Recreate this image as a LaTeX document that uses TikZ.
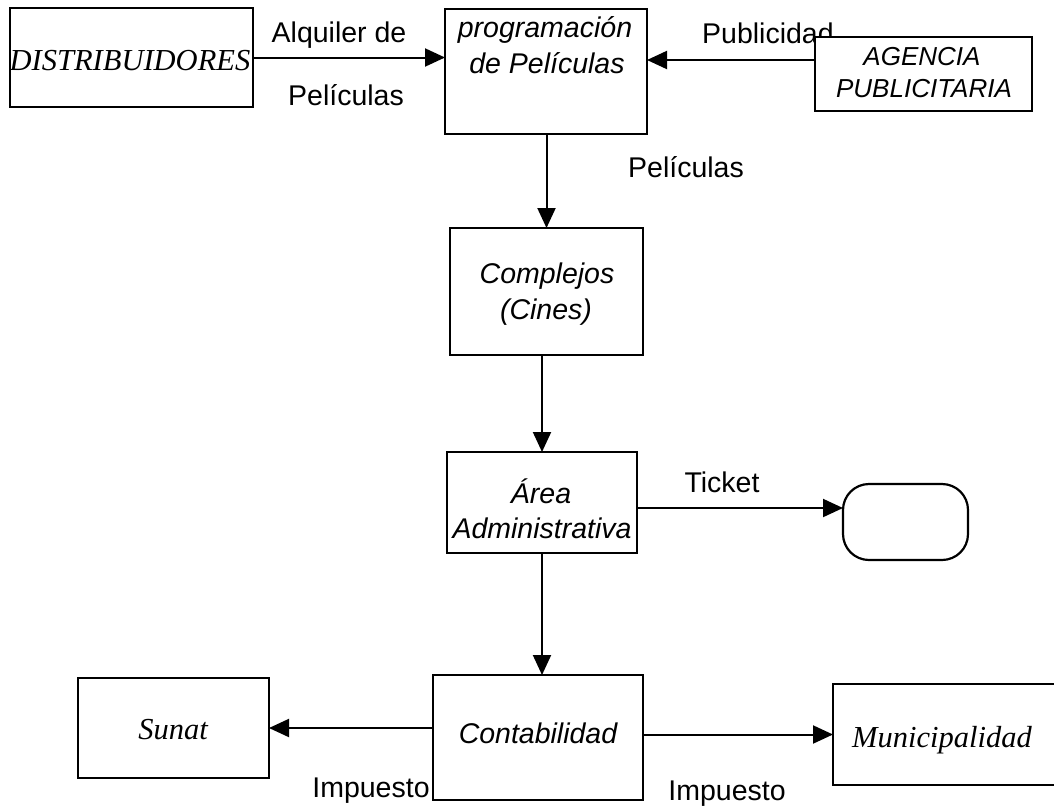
\documentclass[tikz,border=0pt]{standalone}
\usepackage{fontspec}
\setmainfont{Liberation Sans}
\newfontfamily\seriffam{Liberation Serif}
\usetikzlibrary{arrows.meta,calc}
\tikzset{
  box/.style={draw=black, line width=2.2pt, fill=white, inner sep=0pt, outer sep=0pt},
  lbl/.style={inner sep=0pt, font=\fontsize{28.5}{34}\selectfont},
  boxtxt/.style={inner sep=0pt, font=\fontsize{28.5}{34}\selectfont\itshape},
  agtxt/.style={inner sep=0pt, font=\fontsize{26}{31}\selectfont\itshape},
  sertxt/.style={inner sep=0pt, font=\fontsize{30.5}{36}\seriffam\itshape},
  flow/.style={draw=black, line width=2pt, -{Triangle[length=20pt,width=18pt]}}
}
\begin{document}
\begin{tikzpicture}[x=1pt,y=-1pt]
\useasboundingbox (0,0) rectangle (1054,809);
\fill[white] (0,0) rectangle (1054,809);
\clip (0,0) rectangle (1054,809);

% boxes
\node[box, minimum width=243pt, minimum height=99pt] (dist) at (131.5,57.5) {};
\node[box, minimum width=202pt, minimum height=125pt] (prog) at (546,71.5) {};
\node[lbl, anchor=base west] (tpub) at (702,43) {Publicidad};
\node[box, minimum width=217pt, minimum height=74pt] (agen) at (923.5,74) {};
\node[box, minimum width=193pt, minimum height=127pt] (comp) at (546.5,291.5) {};
\node[box, minimum width=190pt, minimum height=101pt] (area) at (542,502.5) {};
\node[box, rounded corners=26pt, minimum width=125pt, minimum height=76pt] (term) at (905.5,522) {};
\node[box, minimum width=210pt, minimum height=125pt] (conta) at (538,737.5) {};
\node[box, minimum width=191pt, minimum height=100pt] (sunat) at (173.5,728) {};
\node[box, minimum width=232pt, minimum height=101pt] (muni) at (949,734.5) {};

% box texts
\node[sertxt, anchor=base] (tdist) at (130,70) {DISTRIBUIDORES};
\node[boxtxt, anchor=base] (tprog1) at (545,37) {programación};
\node[boxtxt, anchor=base] (tprog2) at (547,73) {de Películas};
\node[agtxt, anchor=base] (tag1) at (922,65) {AGENCIA};
\node[agtxt, anchor=base] (tag2) at (924,97) {PUBLICITARIA};
\node[boxtxt, anchor=base] (tcomp1) at (547,283) {Complejos};
\node[boxtxt, anchor=base] (tcomp2) at (546,319) {(Cines)};
\node[boxtxt, anchor=base] (tarea1) at (541,503) {Área};
\node[boxtxt, anchor=base] (tarea2) at (542,538) {Administrativa};
\node[boxtxt, anchor=base] (tconta) at (538,743) {Contabilidad};
\node[sertxt, anchor=base] (tsunat) at (173,739) {Sunat};
\node[sertxt, anchor=base] (tmuni) at (942,747) {Municipalidad};

% labels
\node[lbl, anchor=base] (lalq) at (339,42) {Alquiler de};
\node[lbl, anchor=base] (lpel1) at (346,105) {Películas};
\node[lbl, anchor=base] (lpel2) at (686,177) {Películas};
\node[lbl, anchor=base] (ltick) at (722,492) {Ticket};
\node[lbl, anchor=base] (limp1) at (371,797) {Impuesto};
\node[lbl, anchor=base] (limp2) at (727,800) {Impuesto};

% connectors
\coordinate (yag) at (0,60);
\coordinate (ytk) at (0,508);
\draw[flow] (dist.east) -- (dist.east -| prog.west);
\draw[flow] (agen.west |- yag) -- (prog.east |- yag);
\draw[flow] (prog.south -| comp.north) -- (comp.north);
\draw[flow] (area.north |- comp.south) -- (area.north);
\draw[flow] (area.south) -- (area.south |- conta.north);
\draw[flow] (area.east |- ytk) -- (term.west |- ytk);
\draw[flow] (conta.west |- sunat.east) -- (sunat.east);
\draw[flow] (conta.east |- muni.west) -- (muni.west);
\end{tikzpicture}
\end{document}
